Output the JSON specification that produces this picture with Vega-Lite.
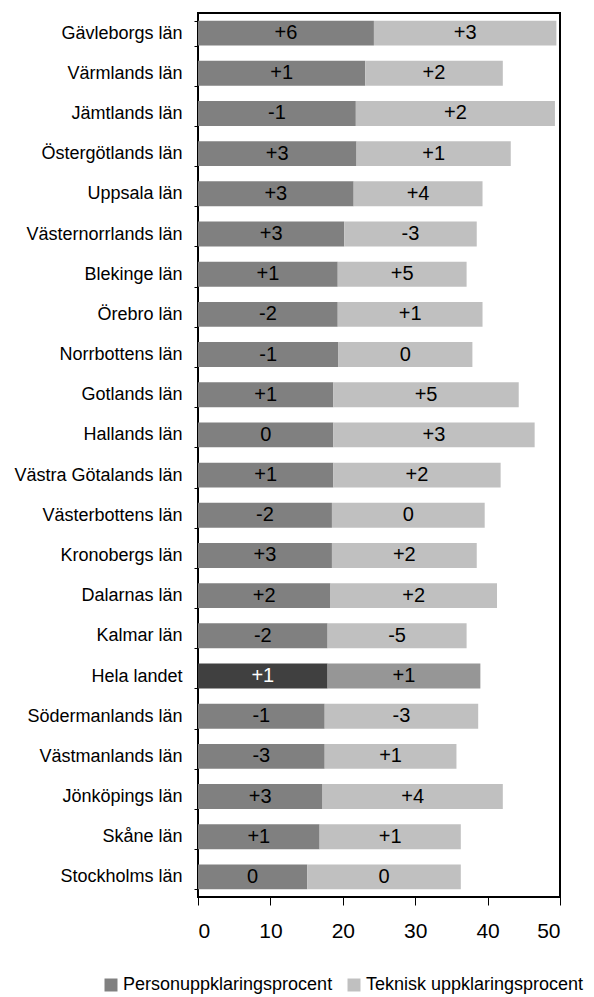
{
  "$schema": "https://vega.github.io/schema/vega-lite/v6.json",
  "autosize": {"type": "none"},
  "width": 362,
  "height": 884,
  "padding": {"left": 198, "top": 13, "right": 34, "bottom": 100},
  "background": "white",
  "config": {
    "font": "Liberation Sans",
    "view": {"stroke": "black", "strokeWidth": 2},
    "axis": {"labelFont": "Liberation Sans", "labelColor": "black", "domainColor": "black", "tickColor": "black", "grid": false, "title": null}
  },
  "data": {
    "values": [
      {"lan": "Gävleborgs län", "typ": "Personuppklaringsprocent", "varde": 24.3, "andring": "+6"},
      {"lan": "Gävleborgs län", "typ": "Teknisk uppklaringsprocent", "varde": 25.2, "andring": "+3"},
      {"lan": "Värmlands län", "typ": "Personuppklaringsprocent", "varde": 23.1, "andring": "+1"},
      {"lan": "Värmlands län", "typ": "Teknisk uppklaringsprocent", "varde": 19.0, "andring": "+2"},
      {"lan": "Jämtlands län", "typ": "Personuppklaringsprocent", "varde": 21.8, "andring": "-1"},
      {"lan": "Jämtlands län", "typ": "Teknisk uppklaringsprocent", "varde": 27.5, "andring": "+2"},
      {"lan": "Östergötlands län", "typ": "Personuppklaringsprocent", "varde": 21.9, "andring": "+3"},
      {"lan": "Östergötlands län", "typ": "Teknisk uppklaringsprocent", "varde": 21.3, "andring": "+1"},
      {"lan": "Uppsala län", "typ": "Personuppklaringsprocent", "varde": 21.5, "andring": "+3"},
      {"lan": "Uppsala län", "typ": "Teknisk uppklaringsprocent", "varde": 17.8, "andring": "+4"},
      {"lan": "Västernorrlands län", "typ": "Personuppklaringsprocent", "varde": 20.2, "andring": "+3"},
      {"lan": "Västernorrlands län", "typ": "Teknisk uppklaringsprocent", "varde": 18.3, "andring": "-3"},
      {"lan": "Blekinge län", "typ": "Personuppklaringsprocent", "varde": 19.3, "andring": "+1"},
      {"lan": "Blekinge län", "typ": "Teknisk uppklaringsprocent", "varde": 17.8, "andring": "+5"},
      {"lan": "Örebro län", "typ": "Personuppklaringsprocent", "varde": 19.3, "andring": "-2"},
      {"lan": "Örebro län", "typ": "Teknisk uppklaringsprocent", "varde": 20.0, "andring": "+1"},
      {"lan": "Norrbottens län", "typ": "Personuppklaringsprocent", "varde": 19.4, "andring": "-1"},
      {"lan": "Norrbottens län", "typ": "Teknisk uppklaringsprocent", "varde": 18.5, "andring": "0"},
      {"lan": "Gotlands län", "typ": "Personuppklaringsprocent", "varde": 18.7, "andring": "+1"},
      {"lan": "Gotlands län", "typ": "Teknisk uppklaringsprocent", "varde": 25.6, "andring": "+5"},
      {"lan": "Hallands län", "typ": "Personuppklaringsprocent", "varde": 18.7, "andring": "0"},
      {"lan": "Hallands län", "typ": "Teknisk uppklaringsprocent", "varde": 27.8, "andring": "+3"},
      {"lan": "Västra Götalands län", "typ": "Personuppklaringsprocent", "varde": 18.7, "andring": "+1"},
      {"lan": "Västra Götalands län", "typ": "Teknisk uppklaringsprocent", "varde": 23.1, "andring": "+2"},
      {"lan": "Västerbottens län", "typ": "Personuppklaringsprocent", "varde": 18.5, "andring": "-2"},
      {"lan": "Västerbottens län", "typ": "Teknisk uppklaringsprocent", "varde": 21.1, "andring": "0"},
      {"lan": "Kronobergs län", "typ": "Personuppklaringsprocent", "varde": 18.5, "andring": "+3"},
      {"lan": "Kronobergs län", "typ": "Teknisk uppklaringsprocent", "varde": 20.0, "andring": "+2"},
      {"lan": "Dalarnas län", "typ": "Personuppklaringsprocent", "varde": 18.3, "andring": "+2"},
      {"lan": "Dalarnas län", "typ": "Teknisk uppklaringsprocent", "varde": 23.0, "andring": "+2"},
      {"lan": "Kalmar län", "typ": "Personuppklaringsprocent", "varde": 17.9, "andring": "-2"},
      {"lan": "Kalmar län", "typ": "Teknisk uppklaringsprocent", "varde": 19.2, "andring": "-5"},
      {"lan": "Hela landet", "typ": "Personuppklaringsprocent", "varde": 17.9, "andring": "+1"},
      {"lan": "Hela landet", "typ": "Teknisk uppklaringsprocent", "varde": 21.1, "andring": "+1"},
      {"lan": "Södermanlands län", "typ": "Personuppklaringsprocent", "varde": 17.5, "andring": "-1"},
      {"lan": "Södermanlands län", "typ": "Teknisk uppklaringsprocent", "varde": 21.2, "andring": "-3"},
      {"lan": "Västmanlands län", "typ": "Personuppklaringsprocent", "varde": 17.5, "andring": "-3"},
      {"lan": "Västmanlands län", "typ": "Teknisk uppklaringsprocent", "varde": 18.2, "andring": "+1"},
      {"lan": "Jönköpings län", "typ": "Personuppklaringsprocent", "varde": 17.2, "andring": "+3"},
      {"lan": "Jönköpings län", "typ": "Teknisk uppklaringsprocent", "varde": 24.9, "andring": "+4"},
      {"lan": "Skåne län", "typ": "Personuppklaringsprocent", "varde": 16.8, "andring": "+1"},
      {"lan": "Skåne län", "typ": "Teknisk uppklaringsprocent", "varde": 19.5, "andring": "+1"},
      {"lan": "Stockholms län", "typ": "Personuppklaringsprocent", "varde": 15.1, "andring": "0"},
      {"lan": "Stockholms län", "typ": "Teknisk uppklaringsprocent", "varde": 21.2, "andring": "0"}
    ]
  },
  "transform": [
    {"stack": "varde", "groupby": ["lan"], "sort": [{"field": "typ", "order": "ascending"}], "as": ["x0", "x1"]},
    {"calculate": "(datum.x0 + datum.x1) / 2", "as": "xmid"}
  ],
  "encoding": {
    "y": {
      "field": "lan", "type": "nominal", "sort": null,
      "scale": {"paddingInner": 0.38, "paddingOuter": 0.19},
      "axis": {"labelFontSize": 18, "labelPadding": 12, "tickSize": 4, "tickBand": "extent", "domain": false, "labelLimit": 300}
    }
  },
  "layer": [
    {
      "mark": {"type": "bar"},
      "encoding": {
        "x": {
          "field": "x0", "type": "quantitative",
          "scale": {"domain": [0, 50], "nice": false, "zero": true},
          "axis": {"values": [0, 10, 20, 30, 40, 50], "labelFontSize": 21, "tickSize": 8, "labelPadding": 15, "domain": false}
        },
        "x2": {"field": "x1"},
        "color": {
          "field": "typ", "type": "nominal",
          "scale": {"domain": ["Personuppklaringsprocent", "Teknisk uppklaringsprocent"], "range": ["#808080", "#c0c0c0"]},
          "legend": {
            "title": null, "orient": "none", "direction": "horizontal",
            "legendX": -96, "legendY": 963, "padding": 0,
            "symbolType": "square", "symbolSize": 169, "symbolStrokeWidth": 0, "symbolOpacity": 1,
            "labelFont": "Liberation Sans", "labelFontSize": 18, "labelColor": "black", "labelLimit": 400, "labelOffset": 3,
            "columnPadding": 12
          },
          "condition": [
            {"test": "datum.lan === 'Hela landet' && datum.typ === 'Personuppklaringsprocent'", "value": "#404040"},
            {"test": "datum.lan === 'Hela landet'", "value": "#969696"}
          ]
        }
      }
    },
    {
      "mark": {"type": "text", "fontSize": 20, "font": "Liberation Sans", "baseline": "middle", "align": "center"},
      "encoding": {
        "x": {"field": "xmid", "type": "quantitative"},
        "text": {"field": "andring"},
        "color": {
          "condition": {"test": "datum.lan === 'Hela landet' && datum.typ === 'Personuppklaringsprocent'", "value": "white"},
          "value": "black"
        }
      }
    }
  ]
}
